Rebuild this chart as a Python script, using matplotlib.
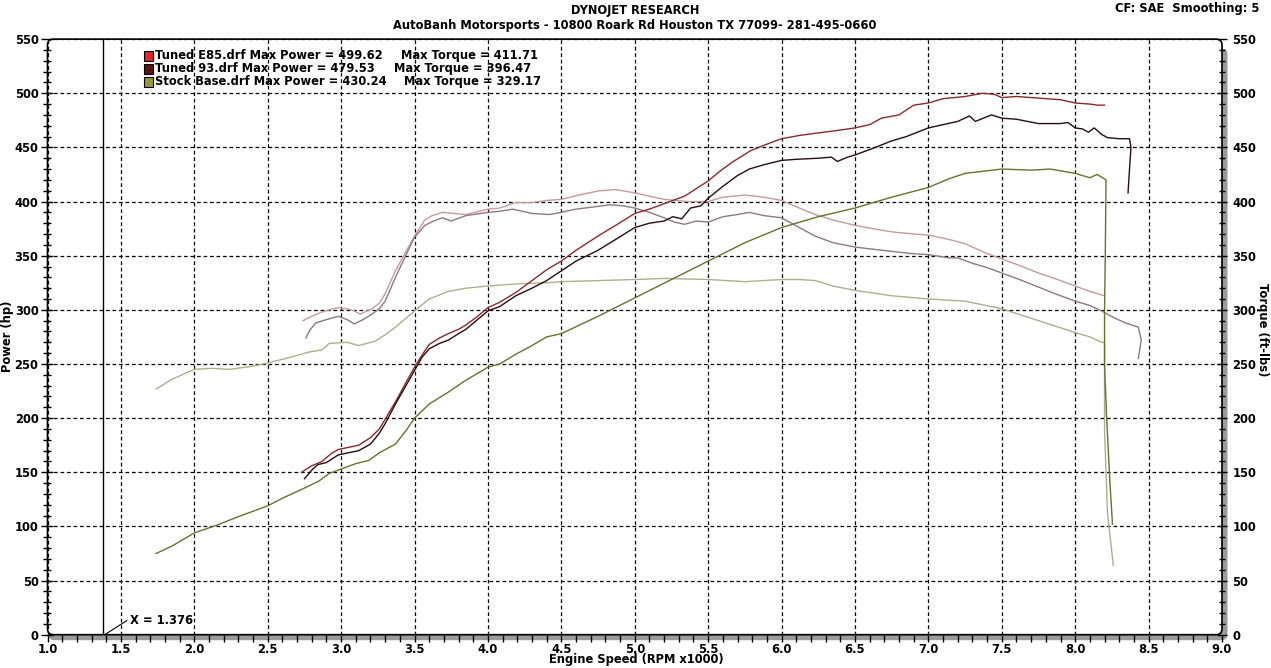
import matplotlib
matplotlib.use("Agg")
import matplotlib.pyplot as plt
from matplotlib.patches import FancyBboxPatch, Rectangle
from matplotlib.transforms import IdentityTransform
from matplotlib.ticker import MultipleLocator, FormatStrFormatter

# ---------------- data (rpm x1000, value) ----------------
e85_pow_rpm = [2.73, 2.80, 2.87, 2.93, 2.98, 3.05, 3.12, 3.20, 3.26, 3.30, 3.37, 3.45, 3.50, 3.55, 3.60,
               3.67, 3.73, 3.80, 3.85, 3.92, 4.00, 4.08, 4.19, 4.30, 4.40, 4.50, 4.60, 4.76, 4.87, 5.00,
               5.10, 5.20, 5.34, 5.42, 5.50, 5.58, 5.66, 5.79, 5.90, 6.00, 6.12, 6.23, 6.40, 6.50, 6.60,
               6.68, 6.80, 6.90, 7.00, 7.10, 7.25, 7.37, 7.45, 7.50, 7.60, 7.70, 7.80, 7.90, 8.00, 8.10,
               8.15, 8.20]
e85_pow_hp = [150, 156, 160, 167, 171, 173, 175, 182, 190, 199, 215, 235, 247, 258, 268,
              274, 278, 282, 286, 293, 302, 307, 316, 327, 337, 345, 355, 369, 378, 389,
              393, 398, 405, 412, 419, 428, 436, 447, 453, 458, 461, 463, 466, 468, 471,
              477, 480, 489, 491, 495, 497, 500, 499, 496, 497, 496, 495, 494, 491, 490,
              489, 489]

t93_pow_rpm = [2.75, 2.80, 2.84, 2.90, 2.98, 3.05, 3.12, 3.20, 3.26, 3.30, 3.37, 3.45, 3.50, 3.55, 3.60,
               3.67, 3.73, 3.80, 3.85, 3.92, 4.00, 4.08, 4.19, 4.30, 4.40, 4.50, 4.60, 4.75, 4.87, 5.00,
               5.10, 5.20, 5.26, 5.32, 5.38, 5.45, 5.50, 5.60, 5.70, 5.78, 5.88, 6.00, 6.10, 6.25, 6.34,
               6.38, 6.45, 6.50, 6.62, 6.75, 6.85, 7.00, 7.10, 7.20, 7.28, 7.32, 7.43, 7.50, 7.60, 7.75,
               7.90, 7.95, 8.00, 8.05, 8.09, 8.13, 8.18, 8.22, 8.30, 8.37, 8.38, 8.37, 8.36]
t93_pow_hp = [144, 152, 157, 159, 166, 168, 170, 176, 186, 195, 213, 232, 244, 256, 264,
              269, 272, 278, 282, 290, 299, 303, 313, 320, 327, 336, 345, 355, 365, 376,
              380, 382, 386, 384, 394, 396, 403, 414, 424, 430, 434, 438, 439, 440, 441,
              437, 441, 443, 449, 456, 460, 468, 471, 474, 479, 474, 480, 477, 476, 472,
              472, 473, 468, 467, 464, 468, 462, 459, 458, 458, 450, 430, 408]

stk_pow_rpm = [1.74, 1.85, 2.00, 2.15, 2.30, 2.50, 2.60, 2.76, 2.85, 2.92, 3.00, 3.10, 3.19, 3.26, 3.37,
               3.45, 3.50, 3.60, 3.73, 3.85, 4.00, 4.08, 4.19, 4.30, 4.40, 4.50, 4.75, 5.00, 5.25, 5.50,
               5.75, 6.00, 6.25, 6.50, 6.75, 7.00, 7.14, 7.25, 7.50, 7.70, 7.83, 8.00, 8.10, 8.15, 8.21,
               8.205, 8.20, 8.20, 8.213, 8.236, 8.254]
stk_pow_hp = [75, 82, 94, 101, 109, 119, 126, 136, 142, 149, 153, 158, 161, 168, 176,
              190, 200, 213, 224, 235, 247, 250, 259, 267, 275, 278, 294, 311, 328, 345,
              362, 376, 386, 394, 404, 413, 421, 426, 430, 429, 430, 426, 422, 425, 420,
              350, 300, 250, 204, 142, 102]

e85_tq_rpm = [2.74, 2.80, 2.87, 2.92, 2.98, 3.04, 3.09, 3.13, 3.21, 3.26, 3.30, 3.37, 3.45, 3.50, 3.57,
              3.62, 3.69, 3.77, 3.85, 4.00, 4.08, 4.19, 4.30, 4.40, 4.50, 4.62, 4.76, 4.87, 5.00, 5.10,
              5.20, 5.36, 5.50, 5.60, 5.75, 5.88, 6.00, 6.12, 6.23, 6.35, 6.50, 6.62, 6.75, 6.90, 7.00,
              7.14, 7.25, 7.40, 7.50, 7.62, 7.75, 7.88, 8.00, 8.10, 8.20]
e85_tq_ft = [290, 294, 298, 300, 302, 301, 299, 296, 301, 306, 315, 336, 356, 368, 383,
             387, 390, 389, 388, 393, 394, 399, 399, 401, 402, 406, 410, 411, 408, 405,
             402, 400, 400, 404, 406, 404, 401, 394, 388, 383, 378, 375, 372, 370, 369,
             365, 361, 352, 347, 341, 334, 328, 322, 317, 313]

t93_tq_rpm = [2.76, 2.79, 2.83, 2.90, 2.98, 3.04, 3.09, 3.15, 3.21, 3.26, 3.30, 3.37, 3.45, 3.50, 3.57,
              3.63, 3.69, 3.75, 3.85, 4.00, 4.08, 4.17, 4.30, 4.42, 4.50, 4.60, 4.72, 4.83, 4.92, 5.00,
              5.10, 5.20, 5.27, 5.34, 5.42, 5.50, 5.60, 5.70, 5.78, 5.88, 6.00, 6.12, 6.23, 6.35, 6.50,
              6.62, 6.75, 6.88, 7.00, 7.14, 7.20, 7.30, 7.40, 7.50, 7.62, 7.75, 7.88, 8.00, 8.10, 8.18,
              8.26, 8.34, 8.43, 8.45, 8.43]
t93_tq_ft = [274, 282, 288, 291, 294, 291, 287, 291, 296, 301, 308, 330, 353, 367, 378,
             382, 385, 382, 387, 390, 391, 393, 389, 388, 390, 393, 395, 397, 396, 394,
             390, 385, 381, 379, 382, 381, 386, 388, 390, 387, 385, 376, 368, 362, 358,
             356, 354, 352, 351, 348, 348, 343, 339, 334, 328, 321, 314, 308, 304, 299,
             293, 288, 284, 272, 255]

stk_tq_rpm = [1.74, 1.85, 2.00, 2.12, 2.24, 2.40, 2.50, 2.65, 2.78, 2.87, 2.92, 3.04, 3.12, 3.23, 3.30,
              3.37, 3.50, 3.60, 3.73, 3.85, 4.00, 4.20, 4.40, 4.50, 4.75, 5.00, 5.20, 5.50, 5.75, 6.00,
              6.12, 6.23, 6.35, 6.50, 6.75, 7.00, 7.25, 7.50, 7.75, 8.00, 8.10, 8.18, 8.20, 8.20, 8.22,
              8.26]
stk_tq_ft = [227, 236, 245, 246, 245, 248, 251, 256, 261, 263, 269, 270, 267, 271, 277,
             284, 299, 310, 317, 320, 322, 324, 325, 326, 327, 328, 329, 328, 326, 328,
             328, 327, 322, 318, 313, 310, 308, 301, 290, 279, 275, 270, 270, 188, 112,
             64]

legend_names = ["Tuned E85.drf", "Tuned 93.drf", "Stock Base.drf"]
legend_power = ["499.62", "479.53", "430.24"]
legend_torque = ["411.71", "396.47", "329.17"]

# ---------------- figure ----------------
W, H = 1271, 668
FS = 8.3
plt.rcParams["font.family"] = "DejaVu Sans"
plt.rcParams["font.weight"] = "bold"
fig = plt.figure(figsize=(W / 100, H / 100), dpi=100)
fig.patch.set_facecolor("white")

L, R, T, B = 47.5, 1222.0, 39.1, 634.7   # pixel box of plot (top-left origin)
ax = fig.add_axes([L / W, 1 - B / H, (R - L) / W, (B - T) / H])
ax.patch.set_visible(False)
for s in ax.spines.values():
    s.set_visible(False)

# frame: grey shadow + rounded black box
idt = IdentityTransform()
shadow = FancyBboxPatch((L + 1, H - B - 5.5), R - L + 4.5, B - T - 4,
                        boxstyle="round,pad=0,rounding_size=6", transform=idt,
                        facecolor="#9a9a9a", edgecolor="none", zorder=0.1, clip_on=False)
box = FancyBboxPatch((L, H - B), R - L, B - T,
                     boxstyle="round,pad=0,rounding_size=6", transform=idt,
                     facecolor="white", edgecolor="black", linewidth=1.2, zorder=0.2, clip_on=False)
ax.add_patch(shadow)
ax.add_patch(box)

ax.set_xlim(1.0, 9.0)
ax.set_ylim(0, 550)
ax.set_axisbelow(True)
ax.xaxis.set_major_locator(MultipleLocator(0.5))
ax.xaxis.set_minor_locator(MultipleLocator(0.1))
ax.yaxis.set_major_locator(MultipleLocator(50))
ax.yaxis.set_minor_locator(MultipleLocator(10))
ax.xaxis.set_major_formatter(FormatStrFormatter("%.1f"))
ax.grid(True, which="major", color="black", linestyle=(0, (3, 2.2)), linewidth=0.9)

ax.tick_params(axis="x", which="major", direction="out", length=5, width=1, pad=1, labelsize=FS)
ax.tick_params(axis="x", which="minor", direction="out", length=5, width=1)
ax.tick_params(axis="y", which="major", direction="inout", length=9, width=1, pad=2, labelsize=FS)
ax.tick_params(axis="y", which="minor", direction="inout", length=6, width=1)
for lab in ax.get_xticklabels() + ax.get_yticklabels():
    lab.set_fontweight("bold")

ax2 = ax.twinx()
ax2.patch.set_visible(False)
for s in ax2.spines.values():
    s.set_visible(False)
ax2.set_ylim(0, 550)
ax2.yaxis.set_major_locator(MultipleLocator(50))
ax2.yaxis.set_minor_locator(MultipleLocator(10))
ax2.tick_params(axis="y", which="major", direction="inout", length=7, width=1, pad=4, labelsize=FS)
ax2.tick_params(axis="y", which="minor", direction="inout", length=5, width=1)
for lab in ax2.get_yticklabels():
    lab.set_fontweight("bold")

# curves
lw = 1.0
ax.plot(e85_tq_rpm, e85_tq_ft, color="#c79a9a", lw=lw, zorder=2)
ax.plot(t93_tq_rpm, t93_tq_ft, color="#8f7783", lw=lw, zorder=2)
ax.plot(stk_tq_rpm, stk_tq_ft, color="#aeae8e", lw=lw, zorder=2)
ax.plot(stk_pow_rpm, stk_pow_hp, color="#6e6e2c", lw=lw, zorder=3)
ax.plot(e85_pow_rpm, e85_pow_hp, color="#8a2a2a", lw=lw, zorder=3)
ax.plot(t93_pow_rpm, t93_pow_hp, color="#2a0c0c", lw=lw, zorder=3)

# cursor line
ax.axvline(1.376, color="black", lw=1.0, zorder=2.5)
ax.plot([1.39, 1.54], [0, 13], color="black", lw=0.8, zorder=2.5, clip_on=False)
ax.text(1.565, 13, "X = 1.376", fontsize=FS, fontweight="bold", va="center", ha="left")

# labels
def fx(px):
    return px / W

def fy(py):
    return 1 - py / H

fig.text(fx(635), fy(10.5), "DYNOJET RESEARCH", ha="center", va="center", fontsize=FS, fontweight="bold")
fig.text(fx(635), fy(25.5), "AutoBanh Motorsports - 10800 Roark Rd Houston TX 77099- 281-495-0660",
         ha="center", va="center", fontsize=FS, fontweight="bold")
fig.text(fx(1259), fy(8.5), "CF: SAE  Smoothing: 5", ha="right", va="center", fontsize=FS, fontweight="bold")
fig.text(fx(636), fy(660), "Engine Speed (RPM x1000)", ha="center", va="center", fontsize=FS, fontweight="bold")
fig.text(fx(8), fy(336), "Power (hp)", ha="center", va="center", rotation=90, fontsize=FS, fontweight="bold")
fig.text(fx(1263), fy(330), "Torque (ft-lbs)", ha="center", va="center", rotation=270, fontsize=FS, fontweight="bold")

# legend
sq_cols = ["#e02828", "#5a1414", "#9a9a30"]
leg_y = [55.5, 68.5, 81.5]
tq_x = [401, 394, 404]
for i in range(3):
    fig.patches.append(Rectangle((fx(144), fy(leg_y[i] + 5)), 9 / W, 10 / H, transform=fig.transFigure,
                                 facecolor=sq_cols[i], edgecolor="black", linewidth=0.8, zorder=5))
    fig.text(fx(155), fy(leg_y[i]), f"{legend_names[i]} Max Power = {legend_power[i]}",
             ha="left", va="center", fontsize=FS, fontweight="bold")
    fig.text(fx(tq_x[i]), fy(leg_y[i]), f"Max Torque = {legend_torque[i]}",
             ha="left", va="center", fontsize=FS, fontweight="bold")

fig.savefig("out.png", dpi=100, facecolor="white")
